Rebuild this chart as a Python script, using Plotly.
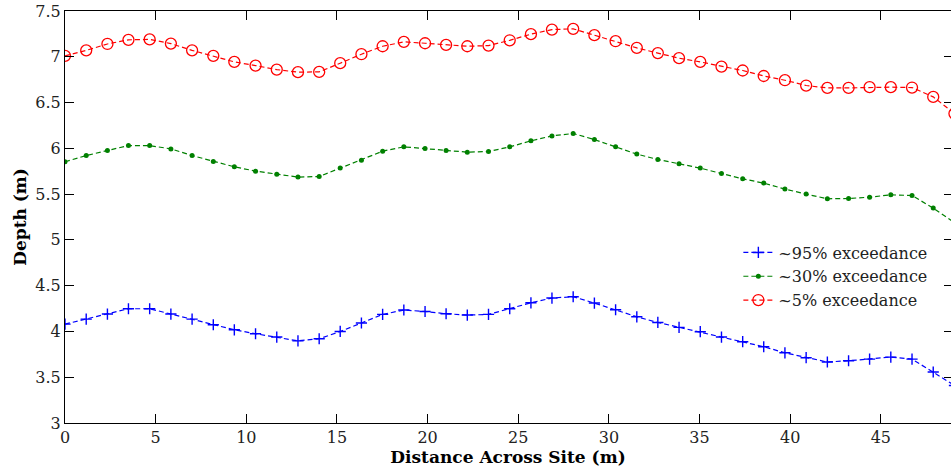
import plotly.graph_objects as go

distance = [0, 1.17, 2.34, 3.5, 4.67, 5.84, 7.01, 8.18, 9.34, 10.51, 11.68, 12.85,
            14.02, 15.18, 16.35, 17.52, 18.69, 19.86, 21.02, 22.19, 23.36, 24.53,
            25.7, 26.86, 28.03, 29.2, 30.37, 31.54, 32.7, 33.87, 35.04, 36.21,
            37.38, 38.54, 39.71, 40.88, 42.05, 43.22, 44.38, 45.55, 46.72, 47.89, 49.06]

depth_95 = [4.08, 4.135, 4.19, 4.248, 4.248, 4.19, 4.135, 4.073, 4.018, 3.975, 3.939, 3.897,
            3.92, 4.0, 4.092, 4.186, 4.234, 4.218, 4.193, 4.179, 4.186, 4.248, 4.313,
            4.365, 4.379, 4.31, 4.237, 4.16, 4.098, 4.044, 3.997, 3.939, 3.888, 3.833,
            3.767, 3.713, 3.666, 3.68, 3.698, 3.72, 3.698, 3.557, 3.41]

depth_30 = [5.853, 5.921, 5.976, 6.03, 6.03, 5.994, 5.921, 5.856, 5.798, 5.751, 5.718, 5.686,
            5.692, 5.784, 5.871, 5.969, 6.016, 5.998, 5.976, 5.958, 5.965, 6.016, 6.082,
            6.136, 6.162, 6.096, 6.016, 5.937, 5.878, 5.831, 5.784, 5.725, 5.667, 5.62,
            5.555, 5.5, 5.449, 5.452, 5.467, 5.492, 5.485, 5.347, 5.19]

depth_5 = [7.01, 7.07, 7.14, 7.185, 7.19, 7.144, 7.07, 7.01, 6.944, 6.904, 6.86, 6.832,
           6.835, 6.93, 7.028, 7.115, 7.163, 7.148, 7.13, 7.115, 7.122, 7.18, 7.247,
           7.297, 7.305, 7.236, 7.17, 7.097, 7.04, 6.985, 6.944, 6.893, 6.85, 6.79,
           6.744, 6.686, 6.66, 6.66, 6.668, 6.668, 6.664, 6.562, 6.38]

series_names = ["~95% exceedance", "~30% exceedance", "~5% exceedance"]

x_ticks = [0, 5, 10, 15, 20, 25, 30, 35, 40, 45]
y_ticks = [3, 3.5, 4, 4.5, 5, 5.5, 6, 6.5, 7, 7.5]

FONT = "DejaVu Serif"
DASH = "5px,3px"

fig = go.Figure()
fig.add_trace(go.Scatter(
    x=distance, y=depth_95, name=series_names[0], mode="lines+markers",
    line=dict(color="#0000ff", width=1.2, dash=DASH),
    marker=dict(symbol="cross-thin", size=8, color="#0000ff",
                line=dict(color="#0000ff", width=1.4)),
))
fig.add_trace(go.Scatter(
    x=distance, y=depth_30, name=series_names[1], mode="lines+markers",
    line=dict(color="#008000", width=1.2, dash=DASH),
    marker=dict(symbol="circle", size=5, color="#008000"),
))
fig.add_trace(go.Scatter(
    x=distance, y=depth_5, name=series_names[2], mode="lines+markers",
    line=dict(color="#ff0000", width=1.2, dash=DASH),
    marker=dict(symbol="circle-open", size=11, color="#ff0000",
                line=dict(color="#ff0000", width=1.3)),
))

fig.update_layout(
    width=951, height=471,
    margin=dict(l=65, r=0, t=11, b=48),
    paper_bgcolor="white", plot_bgcolor="white",
    font=dict(family=FONT, size=16, color="#222222"),
    showlegend=True,
    legend=dict(x=0.76, y=0.455, xanchor="left", yanchor="top",
                bgcolor="rgba(0,0,0,0)", borderwidth=0,
                font=dict(family=FONT, size=16, color="#222222")),
    xaxis=dict(
        range=[0, 48.87], tickvals=x_ticks, ticks="inside", ticklen=9,
        tickcolor="black", showline=True, linecolor="black", linewidth=1,
        mirror="ticks", showgrid=False, zeroline=False,
        title=dict(text="<b>Distance Across Site (m)</b>", standoff=2,
                   font=dict(family=FONT, size=17, color="black")),
        tickfont=dict(family=FONT, size=16, color="#222222"),
    ),
    yaxis=dict(
        range=[3, 7.5], tickvals=y_ticks, ticks="inside", ticklen=9,
        tickcolor="black", showline=True, linecolor="black", linewidth=1,
        showgrid=False, zeroline=False,
        title=dict(text="<b>Depth (m)</b>", standoff=4,
                   font=dict(family=FONT, size=17, color="black")),
        tickfont=dict(family=FONT, size=16, color="#222222"),
    ),
    yaxis2=dict(
        range=[3, 7.5], tickvals=y_ticks, overlaying="y", side="right",
        ticks="inside", ticklen=7, tickcolor="black", showline=False,
        showticklabels=False, showgrid=False, zeroline=False,
    ),
)

fig.add_trace(go.Scatter(x=[None], y=[None], yaxis="y2", showlegend=False,
                         hoverinfo="skip"))

fig.write_html("out.html")
